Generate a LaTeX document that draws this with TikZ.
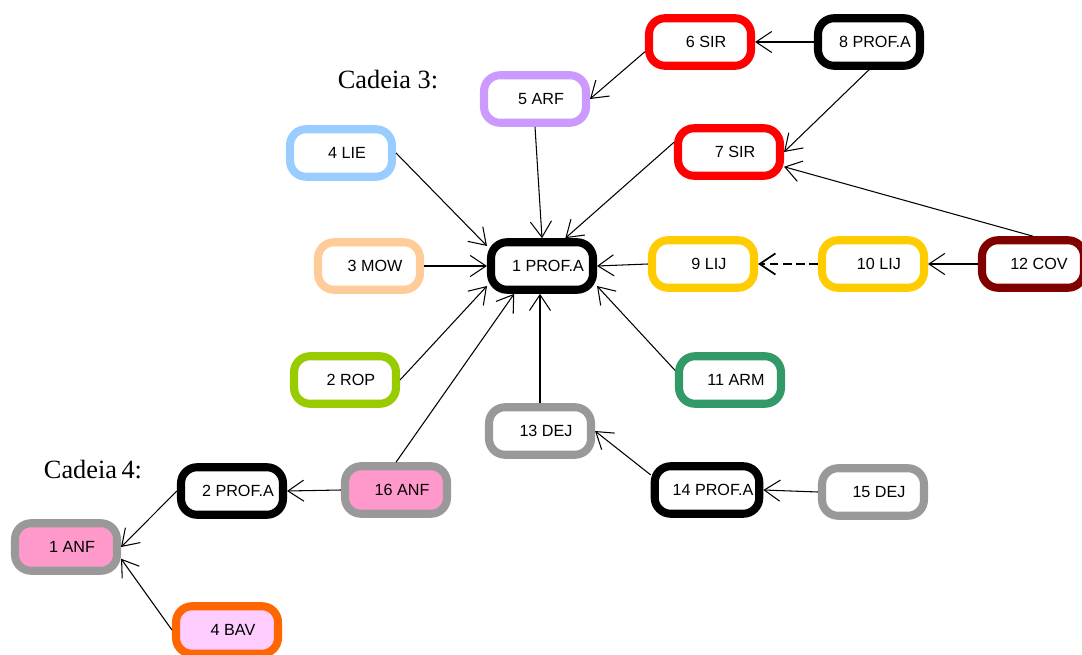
\documentclass[tikz,border=0pt]{standalone}
\usepackage{fontspec}
\setmainfont{Liberation Serif}
\setsansfont{Liberation Sans}
\usetikzlibrary{arrows.meta}
\definecolor{cinza}{HTML}{999999}
\definecolor{rosa}{HTML}{FF99CC}
\definecolor{rosaclaro}{HTML}{FFCCFF}
\definecolor{azul}{HTML}{99CCFF}
\definecolor{pessego}{HTML}{FFCC99}
\definecolor{lima}{HTML}{99CC00}
\definecolor{lilas}{HTML}{CC99FF}
\definecolor{vermelho}{HTML}{FF0000}
\definecolor{ouro}{HTML}{FFCC00}
\definecolor{vinho}{HTML}{800000}
\definecolor{verde}{HTML}{339966}
\definecolor{laranja}{HTML}{FF6600}
\begin{document}
\begin{tikzpicture}[x=0.02cm,y=-0.02cm,
  elo/.style={draw,rounded corners=0.32cm,line width=4.6pt,minimum width=2.04cm,
    minimum height=0.95cm,font=\sffamily\fontsize{9.2}{11}\selectfont,
    execute at begin node=\hspace*{0.24cm}},
  >={Straight Barb[length=9pt,width=12pt]}]
\useasboundingbox (0,0) rectangle (1082,655);
\node (t3) at (388,80) {\fontsize{15}{18}\selectfont Cadeia 3:};
\node (t4) at (93,470) {\fontsize{15}{18}\selectfont Cadeia\,4:};
% cadeia 3
  \node (c1) at (542,266) [elo,draw=black] {1 PROF.A};
  \node (c2) at (345,380) [elo,draw=lima] {2 ROP};
  \node (c3) at (369,266) [elo,draw=pessego] {3 MOW};
  \node (c4) at (341,153) [elo,draw=azul] {4 LIE};
  \node (c5) at (535,99) [elo,draw=lilas] {5 ARF};
  \node (c6) at (700,42) [elo,draw=vermelho] {6 SIR};
  \node (c7) at (729,152) [elo,draw=vermelho] {7 SIR};
  \node (c8) at (869,42) [elo,draw=black] {8 PROF.A};
  \node (c9) at (703,264) [elo,draw=ouro] {9 LIJ};
  \node (c10) at (873,264) [elo,draw=ouro] {10 LIJ};
  \node (c11) at (730,380) [elo,draw=verde] {11 ARM};
  \node (c12) at (1033,264) [elo,draw=vinho] {12 COV};
  \node (c13) at (540,431) [elo,draw=cinza] {13 DEJ};
  \node (c14) at (707,490) [elo,draw=black] {14 PROF.A};
  \node (c15) at (873,492) [elo,draw=cinza] {15 DEJ};
  \node (c16) at (396,490) [elo,draw=cinza,fill=rosa] {16 ANF};
% cadeia 4
  \node (d1) at (66,547) [elo,draw=cinza,fill=rosa] {1 ANF};
  \node (d2) at (232,491) [elo,draw=black] {2 PROF.A};
  \node (d4) at (227,630) [elo,draw=laranja,fill=rosaclaro] {4 BAV};
  \draw [->,semithick] (c4.east) to (c1.160);
  \draw [->,semithick] (c3) to (c1);
  \draw [->,semithick] (c2.east) to (c1.200);
  \draw [->,semithick] (c5.south) to (c1.north);
  \draw [->,semithick] (c7.170) to (c1.50);
  \draw [->,semithick] (c9.west) to (c1.east);
  \draw [->,semithick] (c11.170) to (c1.-20);
  \draw [->,semithick] (c13.north) to (c13.north |- c1.south);
  \draw [->,semithick] (c16.north) to (c1.225);
  \draw [->,semithick] (c6.190) to (c5.east);
  \draw [->,semithick] (c8.west) to (c6.east);
  \draw [->,semithick] (c8.south) to (c7.east);
  \draw [->,semithick] (c12.north) to (c7.-15);
  \draw [->,semithick] (c12.west) to (c10.east);
  \draw [->,line width=1pt,dash pattern=on 5pt off 2.5pt] (c10.west) to (c9.east);
  \draw [->,semithick] (c14.165) to (c13.east);
  \draw [->,semithick] (c15.west) to (c14.east);
  \draw [->,semithick] (c16.west) to (d2.east);
  \draw [->,semithick] (d2.west) to (d1.east);
  \draw [->,semithick] (d4.west) to (d1.-12);
\end{tikzpicture}
\end{document}
